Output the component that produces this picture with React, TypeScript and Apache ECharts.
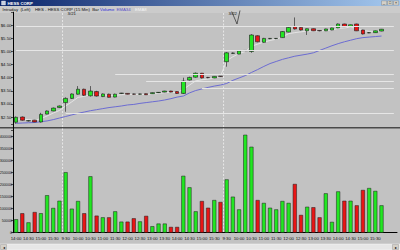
import React, { useEffect, useRef } from "react";
import * as echarts from "echarts";

const times: string[] = [
  "14:00", "14:15", "14:30", "14:45", "15:00", "15:15", "15:30", "15:45",
  "9:30", "9:45", "10:00", "10:15", "10:30", "10:45", "11:00", "11:15", "11:30", "11:45", "12:00", "12:15", "12:30", "12:45", "13:00", "13:15", "13:30", "13:45", "14:00", "14:15", "14:30", "14:45", "15:00", "15:15", "15:30", "15:45",
  "9:30", "9:45", "10:00", "10:15", "10:30", "10:45", "11:00", "11:15", "11:30", "11:45", "12:00", "12:15", "12:30", "12:45", "13:00", "13:15", "13:30", "13:45", "14:00", "14:15", "14:30", "14:45", "15:00", "15:15", "15:30", "15:45",
];
const dayLabels = ["3/21", "3/22"];

const opens = [
  2.30, 2.50, 2.35, 2.38, 2.31, 2.61, 2.73, 2.86,
  3.05, 3.21, 3.37, 3.56, 3.31, 3.47, 3.28, 3.37, 3.26, 3.40, 3.40, 3.38, 3.37, 3.39, 3.39, 3.43, 3.45, 3.49, 3.47, 3.40, 3.91, 4.02, 4.17, 4.01, 3.99, 4.06,
  4.61, 4.93, 4.90, 5.03, 5.00, 5.60, 5.35, 5.49, 5.49, 5.53, 5.74, 5.95, 5.92, 5.79, 5.87, 5.80, 5.79, 5.82, 5.90, 6.05, 5.95, 6.05, 5.82, 5.71, 5.72, 5.78,
];
const closes = [
  2.49, 2.38, 2.36, 2.31, 2.60, 2.73, 2.84, 2.92,
  3.21, 3.38, 3.56, 3.33, 3.49, 3.30, 3.38, 3.25, 3.37, 3.41, 3.37, 3.37, 3.38, 3.35, 3.43, 3.44, 3.49, 3.45, 3.40, 3.87, 4.01, 4.17, 3.99, 4.00, 4.05, 4.05,
  4.95, 4.94, 5.02, 5.04, 5.63, 5.37, 5.50, 5.50, 5.50, 5.76, 5.92, 5.86, 5.82, 5.87, 5.79, 5.79, 5.86, 5.90, 6.05, 5.95, 6.02, 5.79, 5.67, 5.72, 5.79, 5.85,
];
const lows = [
  2.24, 2.36, 2.33, 2.30, 2.29, 2.60, 2.72, 2.84,
  2.70, 3.19, 3.35, 3.30, 3.28, 3.28, 3.26, 3.24, 3.25, 3.38, 3.36, 3.35, 3.35, 3.34, 3.38, 3.42, 3.44, 3.44, 3.38, 3.38, 3.89, 4.00, 3.97, 3.98, 3.98, 4.03,
  4.42, 4.91, 4.89, 5.01, 4.95, 5.35, 5.33, 5.47, 5.47, 5.52, 5.73, 5.84, 5.80, 5.63, 5.78, 5.77, 5.78, 5.81, 5.89, 5.94, 5.94, 5.78, 5.65, 5.70, 5.71, 5.77,
];
const highs = [
  2.52, 2.52, 2.38, 2.39, 2.66, 2.75, 2.86, 2.94,
  3.25, 3.40, 3.68, 3.58, 3.68, 3.50, 3.40, 3.39, 3.39, 3.42, 3.41, 3.39, 3.39, 3.40, 3.44, 3.45, 3.50, 3.50, 3.48, 4.00, 4.04, 4.20, 4.18, 4.03, 4.06, 4.07,
  4.98, 4.96, 5.03, 5.05, 5.66, 5.62, 5.52, 5.51, 5.51, 5.78, 5.94, 6.30, 5.93, 5.88, 5.88, 5.81, 5.87, 5.91, 6.07, 6.06, 6.03, 6.06, 5.83, 5.74, 5.80, 5.86,
];
const volumes = [
  56000, 81000, 43000, 86000, 81000, 156000, 103000, 133000,
  252000, 100000, 132000, 81000, 235000, 71000, 64000, 64000, 89000, 46000, 46000, 60000, 47000, 70000, 27000, 38000, 38000, 24000, 24000, 237000, 189000, 89000, 132000, 104000, 136000, 128000,
  222000, 150000, 97000, 408000, 358000, 136000, 124000, 104000, 97000, 132000, 124000, 203000, 74000, 108000, 106000, 64000, 164000, 45000, 172000, 133000, 133000, 114000, 178000, 186000, 174000, 114000,
];
const ema34 = [
  2.26, 2.27, 2.28, 2.29, 2.32, 2.35, 2.40, 2.46,
  2.52, 2.58, 2.64, 2.69, 2.74, 2.78, 2.82, 2.86, 2.89, 2.92, 2.96, 2.98, 3.02, 3.05, 3.08, 3.11, 3.15, 3.20, 3.26, 3.30, 3.42, 3.51, 3.57, 3.63, 3.68, 3.72,
  3.78, 3.90, 3.99, 4.08, 4.20, 4.31, 4.43, 4.54, 4.62, 4.70, 4.76, 4.82, 4.86, 4.90, 4.95, 5.04, 5.13, 5.22, 5.30, 5.37, 5.43, 5.49, 5.53, 5.55, 5.57, 5.59,
];
const emaFast = [
  2.42, 2.42, 2.40, 2.37, 2.44, 2.54, 2.65, 2.75,
  2.92, 3.08, 3.25, 3.29, 3.35, 3.34, 3.35, 3.32, 3.33, 3.35, 3.36, 3.36, 3.36, 3.36, 3.38, 3.40, 3.43, 3.44, 3.43, 3.56, 3.72, 3.88, 3.92, 3.95, 3.98, 4.05,
  4.65, 4.80, 4.92, 5.00, 5.20, 5.28, 5.36, 5.42, 5.47, 5.56, 5.68, 5.72, 5.75, 5.78, 5.78, 5.78, 5.80, 5.82, 5.88, 5.90, 5.93, 5.88, 5.80, 5.77, 5.77, 5.80,
];
const levelPrices = [5.96, 5.06, 4.14, 3.86, 3.58, 2.66];
const levelStartBars = [0, 0, 16, 21, 30, 8];

const FONT = "'Liberation Sans', Arial, sans-serif";

export default function App() {
  const ref = useRef<HTMLDivElement>(null);
  useEffect(() => {
    const chart = echarts.init(ref.current!, null, { renderer: "svg" });
    const up = "#22e622";
    const down = "#e81616";
    const axisCats = [...times, "", ""];
    const lastIdx = axisCats.length - 1;
    const candle = times.map((_, i) => [opens[i], closes[i], lows[i], highs[i]]);
    const volData = volumes.map((v, i) => ({
      value: v,
      itemStyle: { color: closes[i] >= opens[i] ? up : down },
    }));
    const labelStyle = { fontSize: 4.3, color: "#111", fontFamily: FONT };
    chart.setOption({
      animation: false,
      backgroundColor: "#c2c2c2",
      grid: [
        { left: 13, right: 3, top: 12.2, bottom: 119.9, outerBoundsMode: "none", containLabel: false },
        { left: 13, right: 3, top: 124.7, bottom: 17.3, outerBoundsMode: "none", containLabel: false },
      ],
      xAxis: [
        {
          type: "category", gridIndex: 0, data: axisCats,
          axisLine: { show: false }, axisTick: { show: false }, axisLabel: { show: false },
        },
        {
          type: "category", gridIndex: 1, data: axisCats,
          axisLine: { lineStyle: { color: "#000", width: 1 } },
          axisTick: { interval: 0, length: 2, lineStyle: { color: "#000", width: 0.6 } },
          axisLabel: { interval: 1, margin: 3.5, ...labelStyle },
        },
      ],
      yAxis: [
        {
          type: "value", gridIndex: 0, min: 2, max: 6.5, interval: 0.5,
          axisLine: { show: true, lineStyle: { color: "#000", width: 1 } },
          axisTick: { show: true, length: 2, lineStyle: { color: "#000", width: 0.6 } },
          splitLine: { show: false },
          axisLabel: {
            margin: 1.5, ...labelStyle,
            formatter: (v: number) => (v <= 2 || v >= 6.5 ? "" : "$" + v.toFixed(2)),
          },
        },
        {
          type: "value", gridIndex: 1, min: 0, max: 450000, interval: 50000,
          axisLine: { show: true, lineStyle: { color: "#000", width: 1 } },
          axisTick: { show: true, length: 2, lineStyle: { color: "#000", width: 0.6 } },
          splitLine: { show: false },
          axisLabel: {
            margin: 1, ...labelStyle, fontSize: 3.7,
            formatter: (v: number) => (v >= 450000 ? "" : String(v)),
          },
        },
      ],
      series: [
        {
          type: "line", xAxisIndex: 0, yAxisIndex: 0, data: emaFast, symbol: "none", z: 1,
          lineStyle: { color: "#ececec", width: 0.8 },
          markLine: {
            silent: true, symbol: "none", label: { show: false },
            lineStyle: { color: "#e6e6e6", width: 1, type: "solid" },
            data: levelPrices.map((p, k) => [
              { coord: [levelStartBars[k], p] },
              { coord: [lastIdx, p] },
            ]),
          },
        },
        {
          type: "line", xAxisIndex: 0, yAxisIndex: 0, data: ema34, symbol: "none", z: 1,
          lineStyle: { color: "#6c6cd2", width: 1 },
        },
        {
          type: "candlestick", xAxisIndex: 0, yAxisIndex: 0, data: candle, barWidth: 4, z: 3,
          itemStyle: {
            color: up, color0: down,
            borderColor: "#1a1a1a", borderColor0: "#1a1a1a", borderWidth: 0.6,
          },
        },
        {
          type: "bar", xAxisIndex: 1, yAxisIndex: 1, data: volData, barWidth: 4,
          itemStyle: { borderColor: "#1a1a1a", borderWidth: 0.5 },
        },
      ],
    });

    const px = (i: number) => chart.convertToPixel({ xAxisIndex: 1 }, i) as number;
    const band = px(1) - px(0);
    const baseY = chart.convertToPixel({ yAxisIndex: 1 }, 0) as number;
    const dayStarts: number[] = [];
    times.forEach((t, i) => { if (t === "9:30") dayStarts.push(i); });

    const graphics: any[] = [
      {
        type: "rect", shape: { x: 0, y: 0, width: 400, height: 6 },
        style: {
          fill: new echarts.graphic.LinearGradient(0, 0, 1, 0, [
            { offset: 0, color: "#0a246a" }, { offset: 1, color: "#a6caf0" },
          ]),
        },
      },
      { type: "rect", shape: { x: 1.5, y: 1, width: 4, height: 4 }, style: { fill: "#c8d0e0", stroke: "#ffffff", lineWidth: 0.3 } },
      { type: "text", x: 7.5, y: 3.2, style: { text: "HESS CORP", fill: "#ffffff", fontSize: 4.3, fontWeight: "bold", fontFamily: FONT, verticalAlign: "middle" } },
      ...[381.5, 387.5, 393.5].map((x, k) => ({
        type: "group", children: [
          { type: "rect", shape: { x, y: 0.8, width: 5.2, height: 4.4 }, style: { fill: "#d4d0c8", stroke: "#606060", lineWidth: 0.3 } },
          { type: "text", x: x + 2.6, y: 3, style: { text: ["_", "□", "×"][k], fill: "#000", fontSize: 3.6, fontFamily: FONT, align: "center", verticalAlign: "middle" } },
        ],
      })),
      { type: "rect", shape: { x: 0, y: 6, width: 400, height: 7 }, style: { fill: "#cbcbcb" } },
      { type: "text", x: 2.5, y: 9.6, style: { text: "Intraday  (Left)", fill: "#111", fontSize: 4.3, fontFamily: FONT, verticalAlign: "middle" } },
      { type: "text", x: 35, y: 9.6, style: { text: "HES - HESS CORP (15 Min)  Bar", fill: "#111", fontSize: 4.3, fontFamily: FONT, verticalAlign: "middle" } },
      { type: "text", x: 100, y: 9.6, style: { text: "Volume", fill: "#2828d8", fontSize: 4.3, fontFamily: FONT, verticalAlign: "middle" } },
      { type: "text", x: 116.5, y: 9.6, style: { text: "EMA34", fill: "#5a50c8", fontSize: 4.3, fontFamily: FONT, verticalAlign: "middle" } },
      { type: "text", x: 135, y: 9.6, style: { text: "EMA8", fill: "#f4f4f4", fontSize: 4.3, fontFamily: FONT, verticalAlign: "middle" } },
      { type: "rect", shape: { x: 0, y: 127, width: 400, height: 1.4 }, style: { fill: "#4a4a4a" } },
      { type: "rect", shape: { x: 0, y: 244, width: 400, height: 6 }, style: { fill: "#e6e6e6", stroke: "#ffffff", lineWidth: 0.4 } },
      { type: "rect", shape: { x: 0.5, y: 244.5, width: 6, height: 5 }, style: { fill: "#d4d0c8", stroke: "#707070", lineWidth: 0.3 } },
      { type: "text", x: 3.5, y: 247.2, style: { text: "◂", fill: "#000", fontSize: 4, fontFamily: FONT, align: "center", verticalAlign: "middle" } },
      { type: "rect", shape: { x: 392.5, y: 244.5, width: 6, height: 5 }, style: { fill: "#d4d0c8", stroke: "#707070", lineWidth: 0.3 } },
      { type: "text", x: 395.5, y: 247.2, style: { text: "▸", fill: "#000", fontSize: 4, fontFamily: FONT, align: "center", verticalAlign: "middle" } },
      {
        type: "polyline", shape: { points: [[231.7, 11.5], [237, 24], [240, 10.5]] },
        style: { stroke: "#2a2a2a", lineWidth: 0.7, fill: "none" },
      },
    ];
    dayStarts.forEach((i, k) => {
      const x = px(i) - band / 2;
      graphics.push({
        type: "line", shape: { x1: x, y1: 13, x2: x, y2: baseY },
        style: { stroke: "#f2f2f2", lineWidth: 0.8, lineDash: [2, 1.5] },
      });
      graphics.push({
        type: "text", x: x + 5, y: 13.8,
        style: { text: dayLabels[k], fill: "#111", fontSize: 4.3, fontFamily: FONT, verticalAlign: "middle" },
      });
    });
    chart.setOption({ graphic: graphics });

    return () => chart.dispose();
  }, []);
  return (
    <div
      ref={ref}
      style={{ position: "fixed", left: 0, top: 0, width: 400, height: 250 }}
    />
  );
}
